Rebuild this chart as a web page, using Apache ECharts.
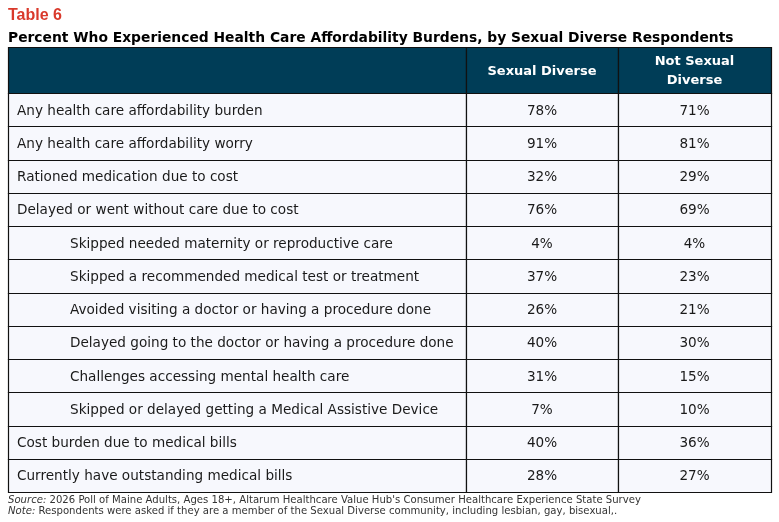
<!DOCTYPE html>
<html>
<head>
<meta charset="utf-8">
<script src="https://cdn.jsdelivr.net/npm/echarts@6/dist/echarts.min.js"></script>
<style>
  html, body { margin: 0; padding: 0; background: #fff; }
  #main { width: 779px; height: 522px; }
</style>
</head>
<body>
<div id="main"></div>
<script>
// 表格数据
const rowLabels = [
  'Any health care affordability burden',
  'Any health care affordability worry',
  'Rationed medication due to cost',
  'Delayed or went without care due to cost',
  'Skipped needed maternity or reproductive care',
  'Skipped a recommended medical test or treatment',
  'Avoided visiting a doctor or having a procedure done',
  'Delayed going to the doctor or having a procedure done',
  'Challenges accessing mental health care',
  'Skipped or delayed getting a Medical Assistive Device',
  'Cost burden due to medical bills',
  'Currently have outstanding medical bills'
];
const rowIndent = [0, 0, 0, 0, 1, 1, 1, 1, 1, 1, 0, 0];
const sexualDiverse = [78, 91, 32, 76, 4, 37, 26, 40, 31, 7, 40, 28];
const notSexualDiverse = [71, 81, 29, 69, 4, 23, 21, 30, 15, 10, 36, 27];
const columnHeaders = ['', 'Sexual Diverse', 'Not Sexual\nDiverse'];

const titleText = 'Table 6';
const subtitleText = 'Percent Who Experienced Health Care Affordability Burdens, by Sexual Diverse Respondents';
const sourceText = "2026 Poll of Maine Adults, Ages 18+, Altarum Healthcare Value Hub's Consumer Healthcare Experience State Survey";
const noteText = 'Respondents were asked if they are a member of the Sexual Diverse community, including lesbian, gay, bisexual,.';

// 布局
const colLeft = [8, 466, 618];
const colWidth = [458, 152, 153];
const headerTop = 47, headerHeight = 46;
const bodyTop = 93, bodyHeight = 399;

const HEADER_BG = '#003d57';
const CELL_BG = '#f7f8fd';
const LINE = '#111';
const BODY_FONT = '13.6px "DejaVu Sans"';
const HEADER_FONT = 'bold 13px "DejaVu Sans"';

const snap = (v) => Math.round(v) + 0.5;

// 单元格绘制
function makeRenderer(col, isHeader) {
  return function (params, api) {
    const cs = params.coordSys;
    const c = api.coord([0, api.value(1)]);
    const h = api.size([0, 1])[1];
    const y0 = snap(c[1] - h / 2), y1 = snap(c[1] + h / 2);
    const x0 = snap(cs.x), x1 = snap(cs.x + cs.width);
    const children = [{
      type: 'rect',
      shape: { x: x0, y: y0, width: x1 - x0, height: y1 - y0 },
      style: { fill: isHeader ? HEADER_BG : CELL_BG, stroke: LINE, lineWidth: 1.2 }
    }];
    let text, tx, align;
    if (isHeader) {
      text = columnHeaders[col];
      tx = cs.x + cs.width / 2;
      align = 'center';
    } else if (col === 0) {
      const idx = params.dataIndex;
      text = rowLabels[idx];
      tx = cs.x + (rowIndent[idx] ? 62 : 9);
      align = 'left';
    } else {
      text = api.value(2) + '%';
      tx = cs.x + cs.width / 2;
      align = 'center';
    }
    if (text) {
      children.push({
        type: 'text',
        style: {
          text: text,
          x: tx,
          y: c[1] + 1.5,
          align: align,
          verticalAlign: 'middle',
          font: isHeader ? HEADER_FONT : BODY_FONT,
          fill: isHeader ? '#fff' : '#1a1a1a',
          lineHeight: 19
        }
      });
    }
    return { type: 'group', children: children };
  };
}

const grids = [], xAxes = [], yAxes = [], series = [];
for (let col = 0; col < 3; col++) {
  [true, false].forEach(isHeader => {
    const gi = grids.length;
    grids.push({
      left: colLeft[col], width: colWidth[col],
      top: isHeader ? headerTop : bodyTop,
      height: isHeader ? headerHeight : bodyHeight
    });
    xAxes.push({ gridIndex: gi, type: 'value', min: 0, max: 1, show: false });
    const cats = isHeader ? ['header'] : rowLabels;
    yAxes.push({ gridIndex: gi, type: 'category', data: cats, inverse: true, show: false });
    let data;
    if (isHeader) {
      data = [[0, 'header', 0]];
    } else {
      const vals = col === 1 ? sexualDiverse : col === 2 ? notSexualDiverse : rowLabels.map(() => 0);
      data = rowLabels.map((r, i) => [0, r, vals[i]]);
    }
    series.push({
      type: 'custom',
      xAxisIndex: gi, yAxisIndex: gi,
      encode: { x: 0, y: 1 },
      renderItem: makeRenderer(col, isHeader),
      data: data,
      silent: true
    });
  });
}

const footStyle = {
  fontFamily: 'DejaVu Sans', fontSize: 10.1, fontWeight: 'normal', color: '#333',
  rich: { i: { fontFamily: 'DejaVu Sans', fontSize: 10.1, fontStyle: 'italic', color: '#333' } }
};

const chart = echarts.init(document.getElementById('main'));
chart.setOption({
  animation: false,
  title: [{
    text: titleText, left: 8, top: 8, padding: 0,
    textStyle: { fontFamily: 'Liberation Sans', fontWeight: 'bold', fontSize: 16, color: '#d9392b' }
  }, {
    text: subtitleText, left: 8, top: 31, padding: 0,
    textStyle: { fontFamily: 'DejaVu Sans', fontWeight: 'bold', fontSize: 13.85, color: '#000' }
  }, {
    text: '{i|Source:} ' + sourceText, left: 8, top: 495, padding: 0,
    textStyle: footStyle
  }, {
    text: '{i|Note:} ' + noteText, left: 8, top: 506, padding: 0,
    textStyle: footStyle
  }],
  grid: grids,
  xAxis: xAxes,
  yAxis: yAxes,
  series: series
});
</script>
</body>
</html>
